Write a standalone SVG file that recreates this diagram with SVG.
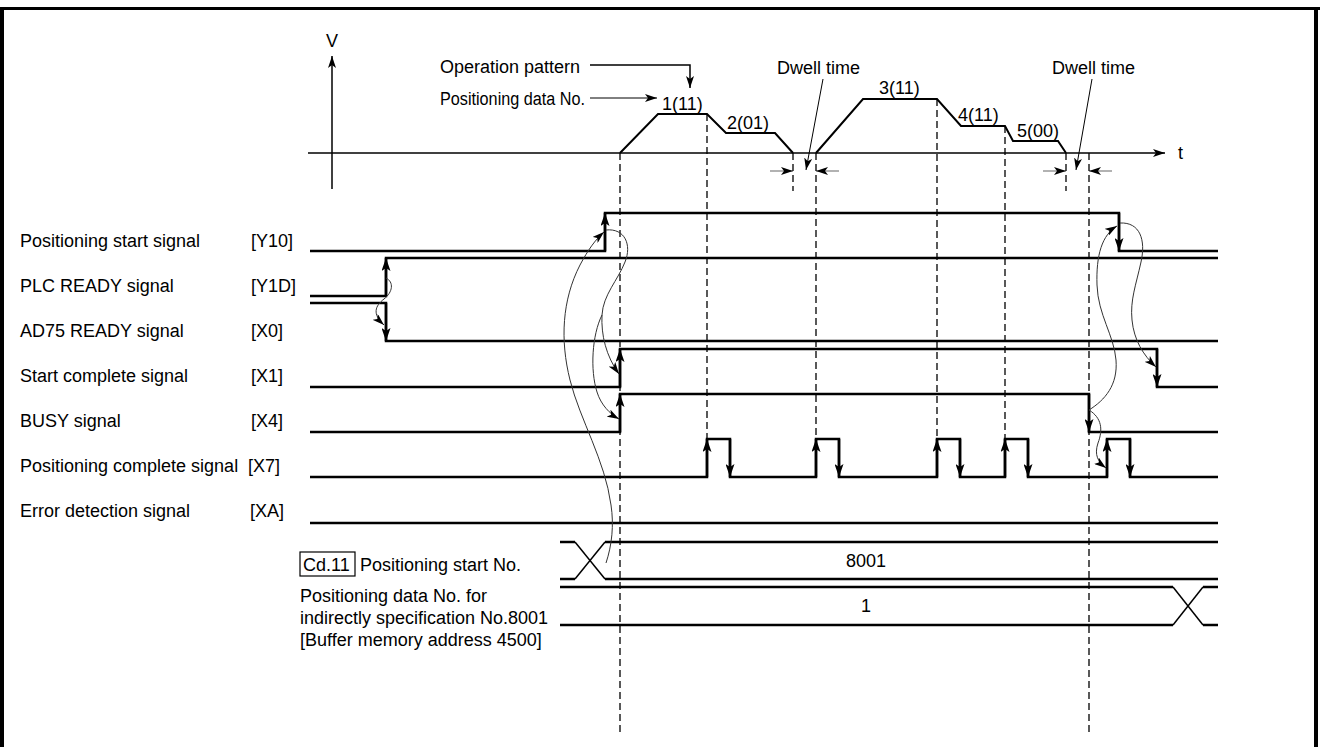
<svg xmlns="http://www.w3.org/2000/svg" width="1320" height="747" viewBox="0 0 1320 747">
<style>
text{font-family:"Liberation Sans",Arial,sans-serif;font-size:18px;fill:#000}
.sig{fill:none;stroke:#000;stroke-width:2.5;stroke-linejoin:miter}
.edge{stroke:#000;stroke-width:2.5;marker-end:url(#ah)}
.pat{fill:none;stroke:#000;stroke-width:2}
.axis{stroke:#000;stroke-width:1.5;fill:none}
.dash{stroke:#000;stroke-width:1.3;stroke-dasharray:7,4;fill:none}
.curve{fill:none;stroke:#333;stroke-width:1;marker-end:url(#ch)}
.dwell{stroke:#999;stroke-width:1.5;marker-end:url(#dh)}
.thin{stroke:#000;stroke-width:1.5;fill:none}
</style>
<defs>
<marker id="ah" markerUnits="userSpaceOnUse" markerWidth="13" markerHeight="9" refX="13" refY="4.5" orient="auto"><path d="M0,0 L13,4.5 L0,9 L3,4.5 z" fill="#000"/></marker>
<marker id="ch" markerUnits="userSpaceOnUse" markerWidth="12" markerHeight="8" refX="12" refY="4" orient="auto"><path d="M0,0 L12,4 L0,8 L3,4 z" fill="#000"/></marker>
<marker id="dh" markerUnits="userSpaceOnUse" markerWidth="12" markerHeight="8" refX="12" refY="4" orient="auto"><path d="M0,0 L12,4 L0,8 L3,4 z" fill="#000"/></marker>
</defs>
<rect x="0" y="0" width="1320" height="747" fill="#fff"/>
<g id="frame">
<line x1="2" y1="7" x2="2" y2="747" stroke="#000" stroke-width="4"/>
<line x1="0" y1="8.5" x2="1320" y2="8.5" stroke="#000" stroke-width="3"/>
<line x1="1316" y1="7" x2="1316" y2="747" stroke="#000" stroke-width="4"/>
</g>
<g id="velocity-graph">
<line class="axis" x1="332" y1="189" x2="332" y2="56" marker-end="url(#ch)"/>
<line class="axis" x1="308" y1="153" x2="1165" y2="153" marker-end="url(#ch)"/>
<text x="332" y="47" text-anchor="middle">V</text>
<text x="1178" y="159">t</text>
<polyline class="pat" points="620,153 658,114 707,114 726,133 775,133 793,153"/>
<polyline class="pat" points="816,153 863,99 937,99 961,126 1005,126 1013,141 1058,141 1066,153"/>
<text x="662" y="110">1(11)</text>
<text x="727" y="129">2(01)</text>
<text x="879" y="94">3(11)</text>
<text x="958" y="121">4(11)</text>
<text x="1017" y="137">5(00)</text>
</g>
<g id="operation-pattern-label">
<text x="440" y="73">Operation pattern</text>
<polyline class="thin" points="590,65 690,65 690,88" marker-end="url(#ch)" stroke-width="1"/>
</g>
<g id="positioning-data-label">
<text x="440" y="105" textLength="145" lengthAdjust="spacingAndGlyphs">Positioning data No.</text>
<line x1="590" y1="98" x2="657" y2="98" stroke="#000" stroke-width="1" marker-end="url(#ch)"/>
</g>
<g id="dwell-1">
<text x="777" y="74">Dwell time</text>
<line x1="823" y1="79" x2="806" y2="170" stroke="#000" stroke-width="1" marker-end="url(#ch)"/>
<line class="dwell" x1="770" y1="171" x2="793" y2="171"/>
<line class="dwell" x1="839" y1="171" x2="816" y2="171"/>
</g>
<g id="dwell-2">
<text x="1052" y="74">Dwell time</text>
<line x1="1092" y1="79" x2="1076" y2="170" stroke="#000" stroke-width="1" marker-end="url(#ch)"/>
<line class="dwell" x1="1043" y1="171" x2="1066" y2="171"/>
<line class="dwell" x1="1112" y1="171" x2="1089" y2="171"/>
</g>
<g id="dashed-guides">
<line class="dash" x1="620" y1="153" x2="620" y2="732"/>
<line class="dash" x1="707" y1="114" x2="707" y2="439"/>
<line class="dash" x1="793" y1="153" x2="793" y2="191"/>
<line class="dash" x1="816" y1="153" x2="816" y2="439"/>
<line class="dash" x1="937" y1="99" x2="937" y2="439"/>
<line class="dash" x1="1005" y1="126" x2="1005" y2="439"/>
<line class="dash" x1="1066" y1="153" x2="1066" y2="191"/>
<line class="dash" x1="1089" y1="153" x2="1089" y2="732"/>
</g>
<g id="sig-y10">
<text x="20" y="247">Positioning start signal</text><text x="251" y="247">[Y10]</text>
<polyline class="sig" points="310,251 605,251 605,213 1119,213 1119,251 1218,251"/>
<line class="edge" x1="605" y1="251" x2="605" y2="213"/>
<line class="edge" x1="1119" y1="213" x2="1119" y2="251"/>
</g>
<g id="sig-y1d">
<text x="20" y="292">PLC READY signal</text><text x="251" y="292">[Y1D]</text>
<polyline class="sig" points="310,296 386,296 386,258 1218,258"/>
<line class="edge" x1="386" y1="296" x2="386" y2="258"/>
</g>
<g id="sig-x0">
<text x="20" y="337">AD75 READY signal</text><text x="251" y="337">[X0]</text>
<polyline class="sig" points="310,303 386,303 386,341 1218,341"/>
<line class="edge" x1="386" y1="303" x2="386" y2="341"/>
</g>
<g id="sig-x1">
<text x="20" y="382">Start complete signal</text><text x="251" y="382">[X1]</text>
<polyline class="sig" points="310,387 620,387 620,349 1157,349 1157,387 1218,387"/>
<line class="edge" x1="620" y1="387" x2="620" y2="349"/>
<line class="edge" x1="1157" y1="349" x2="1157" y2="387"/>
</g>
<g id="sig-x4">
<text x="20" y="427">BUSY signal</text><text x="251" y="427">[X4]</text>
<polyline class="sig" points="310,432 620,432 620,394 1089,394 1089,432 1218,432"/>
<line class="edge" x1="620" y1="432" x2="620" y2="394"/>
<line class="edge" x1="1089" y1="394" x2="1089" y2="432"/>
</g>
<g id="sig-x7">
<text x="20" y="472">Positioning complete signal</text><text x="248" y="472">[X7]</text>
<polyline class="sig" points="310,477 707,477 707,439 730,439 730,477 816,477 816,439 839,439 839,477 937,477 937,439 960,439 960,477 1005,477 1005,439 1028,439 1028,477 1107,477 1107,439 1130,439 1130,477 1218,477"/>
<line class="edge" x1="707" y1="477" x2="707" y2="439"/>
<line class="edge" x1="730" y1="439" x2="730" y2="477"/>
<line class="edge" x1="816" y1="477" x2="816" y2="439"/>
<line class="edge" x1="839" y1="439" x2="839" y2="477"/>
<line class="edge" x1="937" y1="477" x2="937" y2="439"/>
<line class="edge" x1="960" y1="439" x2="960" y2="477"/>
<line class="edge" x1="1005" y1="477" x2="1005" y2="439"/>
<line class="edge" x1="1028" y1="439" x2="1028" y2="477"/>
<line class="edge" x1="1107" y1="477" x2="1107" y2="439"/>
<line class="edge" x1="1130" y1="439" x2="1130" y2="477"/>
</g>
<g id="sig-xa">
<text x="20" y="517">Error detection signal</text><text x="250" y="517">[XA]</text>
<polyline class="sig" points="310,523 1218,523"/>
</g>
<g id="cd11">
<rect x="300" y="552" width="55" height="24" fill="none" stroke="#000" stroke-width="1.2"/>
<text x="303" y="571">Cd.11</text>
<text x="360" y="571">Positioning start No.</text>
<polyline class="sig" points="560,542 575,542"/>
<polyline class="sig" points="605,542 1218,542"/>
<polyline class="sig" points="560,579 575,579"/>
<polyline class="sig" points="605,579 1218,579"/>
<line class="thin" x1="575" y1="542" x2="605" y2="579"/>
<line class="thin" x1="575" y1="579" x2="605" y2="542"/>
<text x="866" y="567" text-anchor="middle">8001</text>
</g>
<g id="indirect-data">
<text x="300" y="602">Positioning data No. for</text>
<text x="300" y="624">indirectly specification No.8001</text>
<text x="300" y="646">[Buffer memory address 4500]</text>
<polyline class="sig" points="560,587 1173,587"/>
<polyline class="sig" points="1203,587 1218,587"/>
<polyline class="sig" points="560,625 1173,625"/>
<polyline class="sig" points="1203,625 1218,625"/>
<line class="thin" x1="1173" y1="587" x2="1203" y2="625"/>
<line class="thin" x1="1173" y1="625" x2="1203" y2="587"/>
<text x="866" y="612" text-anchor="middle">1</text>
</g>
<g id="connectors">
<path class="curve" d="M386,278 C394,282 393,292 384,299 C375,306 372,314 384,325"/>
<path class="curve" d="M606,230 C625,228 632,245 625,262 C618,280 603,295 602,315 C601,335 606,356 619,374"/>
<path class="curve" d="M602,315 C592,335 590,370 597,392 C601,405 610,414 619,419"/>
<path class="curve" d="M606,563 C612,545 614,525 611,505 C605,460 580,420 570,380 C560,340 562,300 580,265 C588,250 595,240 604,232"/>
<path class="curve" d="M1089,410 C1105,400 1118,385 1116,360 C1114,335 1098,315 1097,285 C1096,255 1102,235 1117,226"/>
<path class="curve" d="M1120,223 C1140,222 1146,240 1141,262 C1136,285 1130,300 1132,320 C1134,340 1143,355 1156,367"/>
<path class="curve" d="M1089,410 C1102,418 1103,430 1098,443 C1094,455 1098,462 1106,468"/>
</g>
</svg>
